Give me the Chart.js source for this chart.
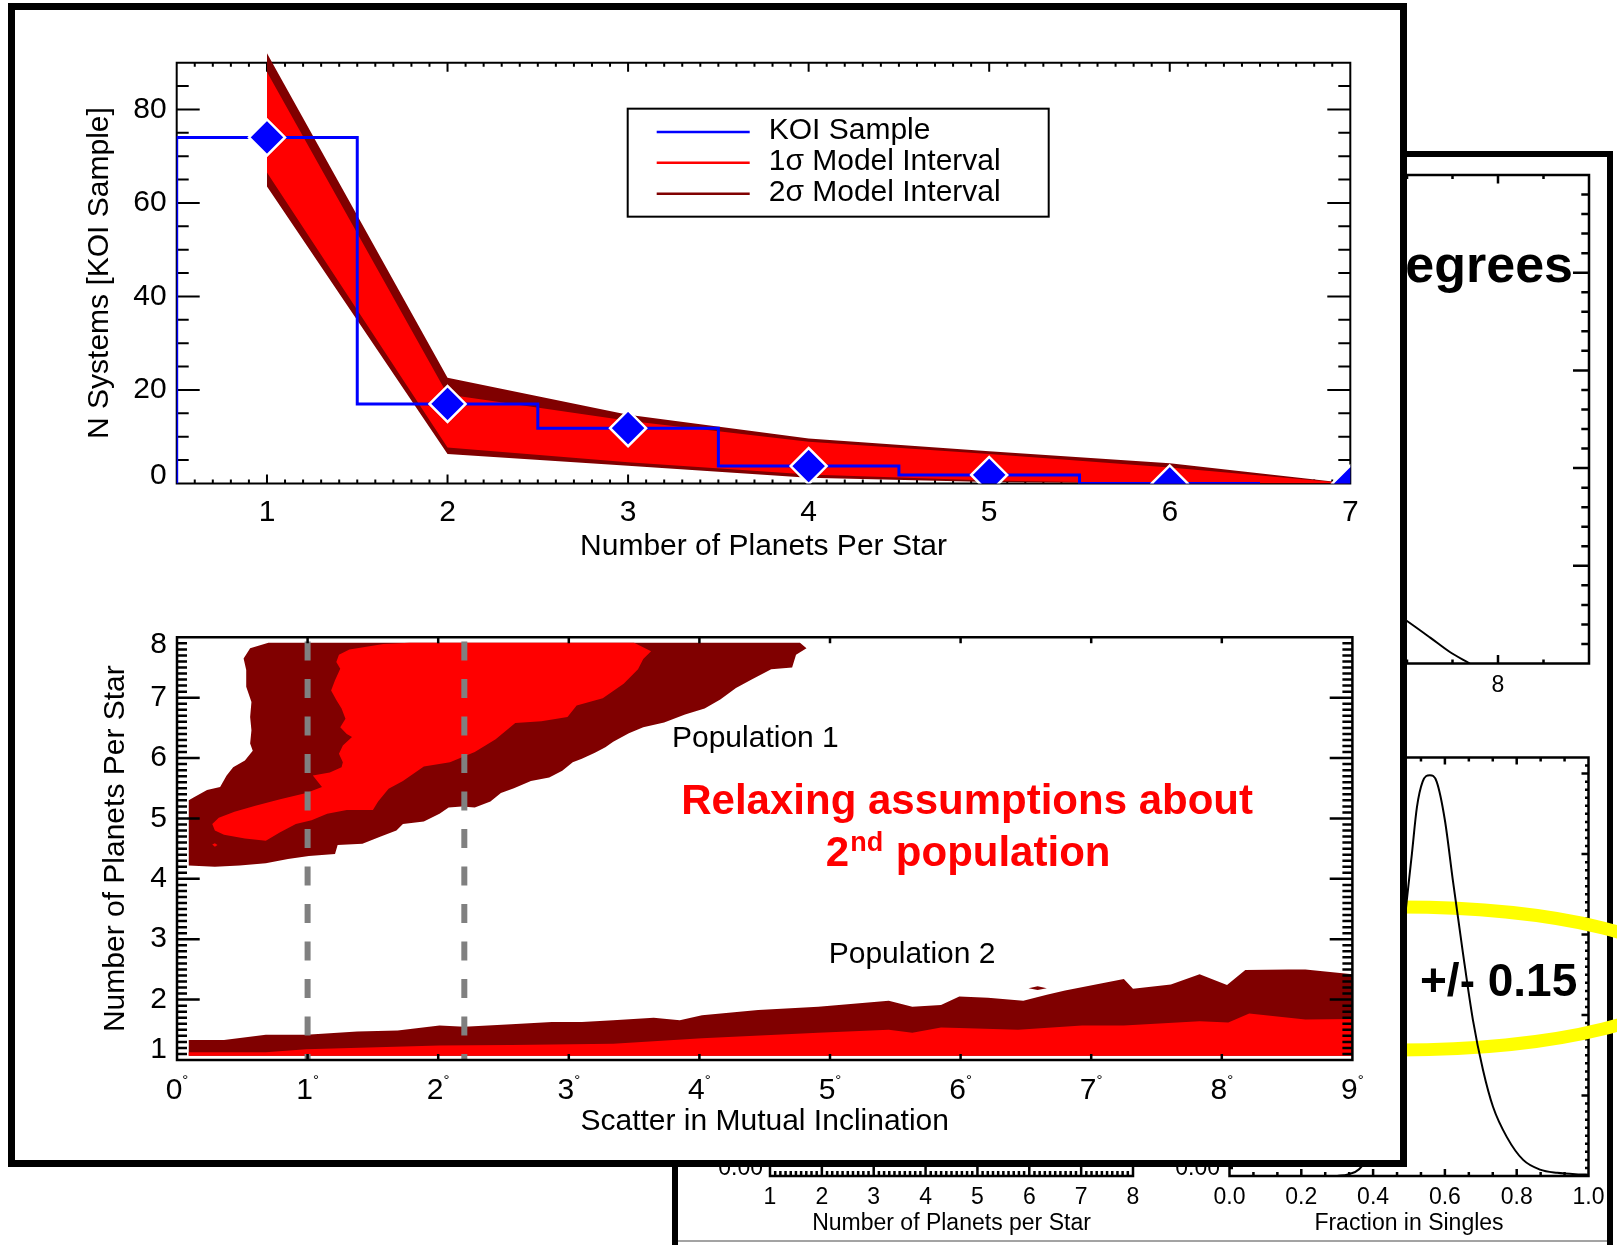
<!DOCTYPE html>
<html lang="en">
<head>
<meta charset="utf-8">
<title>Planet multiplicity and mutual inclination</title>
<script src="https://cdn.jsdelivr.net/npm/chart.js@4.4.1/dist/chart.umd.min.js"></script>
<style>
  html, body { margin: 0; padding: 0; background: #fff; }
  body { position: relative; width: 1617px; height: 1245px; overflow: hidden; }
  canvas { position: absolute; left: 0; top: 0; }
  .panel { position: absolute; box-sizing: border-box; background: #fff; border: solid #000; }
  #backPanel { left: 672px; top: 151px; width: 941px; height: 1200px; border-width: 6px; }
  #backEdge { position: absolute; left: 678px; top: 1240px; width: 929px; height: 2px; background: #a3a3a3; }
  #frontPanel { left: 8px; top: 3px; width: 1399px; height: 1164px; border-width: 7px; }
</style>
</head>
<body>
<div id="backPanel" class="panel"></div>
<div id="backEdge"></div>
<canvas id="degChart" width="1617" height="1245"></canvas>
<canvas id="numChart" width="1617" height="1245"></canvas>
<canvas id="fracChart" width="1617" height="1245"></canvas>
<div id="frontPanel" class="panel"></div>
<canvas id="koiChart" width="1617" height="1245"></canvas>
<canvas id="inclChart" width="1617" height="1245"></canvas>
<script>
const FONT = '"Liberation Sans", Arial, Helvetica, sans-serif';
const BLUE = '#0000ff', RED = '#ff0000', DARK = '#800000', GREY = '#808080';

// ---- KOI multiplicity: observed histogram and model intervals ----
const koiXRange = [0.5, 7];
const koiYRange = [0, 90];
const koiYHeadroom = 95;            // lets the interval band rise above the frame
const koiBinEdges = [0.5, 1.5, 2.5, 3.5, 4.5, 5.5, 6.5];   // last entry closes the final bin
const koiHist = [74, 17, 11.8, 3.7, 1.8, 0];
const planetsPerStar = [1, 2, 3, 4, 5, 6, 7];
const koiCounts = [74, 17, 11.8, 3.7, 1.8, 0, 0];
const oneSigmaHigh = [88, 19, 13.4, 8.9, 6.3, 3.4, 0];
const oneSigmaLow = [66.5, 7.7, 4.5, 1.9, 0.6, 0, 0];
const twoSigmaHigh = [92, 22.6, 14.7, 9.6, 6.9, 4.3, 0];
const twoSigmaLow = [63.5, 6.3, 3.8, 1.2, 0.3, 0, 0];
const koiXTicks = [1, 2, 3, 4, 5, 6, 7];
const koiYTicks = [0, 20, 40, 60, 80];
const koiLegend = ['KOI Sample', '1\u03c3 Model Interval', '2\u03c3 Model Interval'];

// ---- Mutual inclination vs. multiplicity: confidence contours ----
const inclXRange = [0, 9];
const inclYRange = [1, 8];
const inclXTicks = [0, 1, 2, 3, 4, 5, 6, 7, 8, 9];
const inclYTicks = [1, 2, 3, 4, 5, 6, 7, 8];
const inclRefLines = [1.0, 2.2];
const pop1Outer = [
  [0.70,7.91],[0.56,7.82],[0.51,7.65],[0.53,7.46],[0.53,7.18],[0.57,6.93],[0.56,6.68],[0.57,6.46],
  [0.56,6.24],[0.58,6.12],[0.52,5.96],[0.43,5.85],[0.38,5.71],[0.33,5.52],[0.23,5.47],[0.13,5.35],
  [0.09,5.30],[0.09,4.22],[0.29,4.20],[0.48,4.22],[0.68,4.26],[0.85,4.33],[1.01,4.38],[1.21,4.41],
  [1.23,4.56],[1.42,4.58],[1.56,4.70],[1.68,4.80],[1.73,4.91],[1.89,4.95],[2.01,5.08],[2.08,5.18],
  [2.18,5.20],[2.28,5.18],[2.40,5.28],[2.48,5.42],[2.58,5.50],[2.71,5.62],[2.85,5.68],[2.95,5.79],
  [3.03,5.93],[3.10,5.99],[3.20,6.09],[3.28,6.18],[3.34,6.27],[3.46,6.41],[3.57,6.51],[3.73,6.59],
  [3.89,6.72],[4.04,6.82],[4.16,6.97],[4.28,7.16],[4.40,7.30],[4.55,7.47],[4.71,7.50],[4.74,7.71],
  [4.82,7.82],[4.77,7.91]
];
const pop1Inner = [
  [1.78,7.91],[3.50,7.91],[3.63,7.77],[3.57,7.64],[3.53,7.47],[3.42,7.23],[3.26,6.99],[3.06,6.87],
  [2.99,6.68],[2.79,6.61],[2.59,6.58],[2.44,6.31],[2.28,6.10],[2.09,5.93],[1.89,5.86],[1.73,5.62],
  [1.62,5.49],[1.54,5.28],[1.50,5.14],[1.30,5.14],[1.15,5.08],[1.03,4.97],[0.91,4.91],[0.79,4.77],
  [0.68,4.63],[0.52,4.67],[0.36,4.73],[0.29,4.80],[0.27,4.91],[0.32,5.01],[0.44,5.11],[0.60,5.21],
  [0.79,5.32],[0.99,5.42],[1.11,5.52],[1.04,5.71],[1.17,5.76],[1.26,5.85],[1.27,5.93],[1.24,6.07],
  [1.27,6.21],[1.34,6.35],[1.30,6.40],[1.25,6.51],[1.29,6.65],[1.26,6.82],[1.22,6.96],[1.18,7.12],
  [1.21,7.29],[1.25,7.48],[1.22,7.59],[1.24,7.71],[1.32,7.80],[1.58,7.89]
];
const pop1Speck = [[0.27,4.57],[0.29,4.59],[0.31,4.56],[0.29,4.53]];
const pop2Floor = 1.07;
const pop2OuterTop = [
  [0.09,1.33],[0.36,1.33],[0.68,1.42],[0.99,1.42],[1.38,1.47],[1.69,1.49],[2.01,1.57],[2.20,1.55],
  [2.56,1.59],[2.87,1.63],[3.10,1.63],[3.34,1.66],[3.65,1.70],[3.85,1.66],[4.02,1.74],[4.45,1.83],
  [4.91,1.88],[5.45,1.98],[5.63,1.88],[5.85,1.91],[5.99,2.05],[6.21,2.03],[6.48,1.98],[6.66,2.08],
  [6.80,2.15],[7.25,2.34],[7.32,2.18],[7.61,2.25],[7.83,2.42],[8.04,2.24],[8.18,2.49],[8.51,2.50],
  [8.64,2.50],[9.00,2.42]
];
const pop2InnerTop = [
  [0.09,1.13],[0.68,1.13],[0.99,1.18],[2.01,1.24],[2.56,1.25],[3.34,1.27],[4.02,1.36],[4.91,1.45],
  [5.45,1.50],[5.63,1.45],[5.85,1.54],[5.99,1.53],[6.44,1.50],[6.93,1.57],[7.25,1.57],[7.83,1.64],
  [8.05,1.62],[8.21,1.77],[8.64,1.67],[9.00,1.68]
];
const pop2Speck = [[6.52,2.19],[6.59,2.22],[6.66,2.19],[6.59,2.16]];

// ---- panels behind ----
const degXRange = [0, 10];
const degXTicks = [0, 4, 8];
const degCurveX = [4, 5, 6.0, 6.51, 6.95, 7.38];
const degCurveY = [0.22, 0.15, 0.087, 0.053, 0.023, 0];
const numXRange = [1, 8];
const numXTicks = [1, 2, 3, 4, 5, 6, 7, 8];
const fracXRange = [0, 1];
const fracYRange = [0, 0.26];
const fracXTicks = [0, 0.2, 0.4, 0.6, 0.8, 1.0];
const fracX = [0.30, 0.33, 0.36, 0.40, 0.43, 0.46, 0.48, 0.494, 0.508, 0.522, 0.538, 0.558, 0.577,
               0.600, 0.622, 0.650, 0.678, 0.706, 0.734, 0.773, 0.818, 0.865, 0.913, 0.977, 1.0];
const fracY = [0.000, 0.001, 0.004, 0.018, 0.045, 0.100, 0.142, 0.1715, 0.200, 0.229, 0.245, 0.249, 0.245,
               0.221, 0.184, 0.139, 0.097, 0.066, 0.043, 0.024, 0.010, 0.004, 0.002, 0.001, 0.0008];

// ---------- helpers ----------
const W = 1617, H = 1245;
const pts = (xs, ys) => xs.map((x, i) => ({x, y: ys[i]}));
const poly = pairs => pairs.map(([x, y]) => ({x, y}));
function range(a, b, step) {
  const out = []; const n = Math.round((b - a) / step);
  for (let i = 0; i <= n; i++) out.push(+(a + i * step).toFixed(6));
  return out;
}
function pad(left, top, right, bottom) {
  return {left, top, right: W - right, bottom: H - bottom};
}
function baseOptions(padding, xr, yr) {
  return {
    responsive: false, maintainAspectRatio: false, animation: false, devicePixelRatio: 1, events: [],
    layout: {padding},
    plugins: {legend: {display: false}, tooltip: {enabled: false}, filler: {propagate: false}},
    scales: {
      x: {type: 'linear', min: xr[0], max: xr[1], display: false},
      y: {type: 'linear', min: yr[0], max: yr[1], display: false}
    }
  };
}
function text(ctx, str, x, y, font, align, baseline, color) {
  ctx.save();
  ctx.font = font; ctx.fillStyle = color || '#000';
  ctx.textAlign = align || 'center'; ctx.textBaseline = baseline || 'middle';
  ctx.fillText(str, x, y);
  ctx.restore();
}
function vtext(ctx, str, x, y, font) {
  ctx.save(); ctx.translate(x, y); ctx.rotate(-Math.PI / 2);
  text(ctx, str, 0, 0, font); ctx.restore();
}
// Box frame with inward ticks on all four sides, placed through the chart scales.
function drawFrame(chart, s) {
  const {ctx} = chart; const xs = chart.scales.x, ys = chart.scales.y;
  const L = xs.getPixelForValue(s.x0), R = xs.getPixelForValue(s.x1);
  const B = ys.getPixelForValue(s.y0), T = ys.getPixelForValue(s.y1);
  ctx.save();
  ctx.strokeStyle = '#000'; ctx.lineWidth = s.lw; ctx.lineCap = 'butt';
  ctx.beginPath();
  ctx.rect(L, T, R - L, B - T);
  for (const t of s.xTicks || []) for (const v of t.values) {
    const p = xs.getPixelForValue(v);
    if (t.bottom) { ctx.moveTo(p, B); ctx.lineTo(p, B - t.len); }
    if (t.top) { ctx.moveTo(p, T); ctx.lineTo(p, T + t.len); }
  }
  for (const t of s.yTicks || []) for (const v of t.values) {
    const p = ys.getPixelForValue(v);
    if (t.left) { ctx.moveTo(L, p); ctx.lineTo(L + t.len, p); }
    if (t.right) { ctx.moveTo(R, p); ctx.lineTo(R - t.len, p); }
  }
  ctx.stroke();
  ctx.restore();
  return {L, R, T, B};
}
function xLabels(chart, values, fmt, y, font) {
  const xs = chart.scales.x;
  values.forEach(v => text(chart.ctx, fmt(v), xs.getPixelForValue(v), y, font));
}
function yLabels(chart, values, fmt, xRight, font, lo, hi) {
  const ys = chart.scales.y;
  values.forEach(v => {
    const p = Math.min(hi, Math.max(lo, ys.getPixelForValue(v)));
    text(chart.ctx, fmt(v), xRight, p, font, 'right');
  });
}

// ---------- KOI multiplicity chart ----------
const koiStep = [{x: koiBinEdges[0], y: 0}]
  .concat(koiHist.map((c, i) => ({x: koiBinEdges[i], y: c})))
  .concat([{x: koiBinEdges[koiHist.length], y: koiHist[koiHist.length - 1]}]);

const koiFont = '30px ' + FONT;
const koiPlugin = {
  id: 'koiAxes',
  beforeDatasetsDraw(chart) {
    const {ctx} = chart;
    const f = drawFrame(chart, {
      x0: koiXRange[0], x1: koiXRange[1], y0: koiYRange[0], y1: koiYRange[1], lw: 2,
      xTicks: [{values: koiXTicks, len: 9, bottom: true, top: true},
               {values: range(koiXRange[0], koiXRange[1], 0.1), len: 4, bottom: true, top: true}],
      yTicks: [{values: koiYTicks, len: 23, left: true, right: true},
               {values: range(koiYRange[0], koiYRange[1], 5), len: 12, left: true, right: true}]
    });
    xLabels(chart, koiXTicks, String, f.B + 29, koiFont);
    yLabels(chart, koiYTicks, String, f.L - 10, koiFont, f.T, f.B - 8);
    text(ctx, 'Number of Planets Per Star', (f.L + f.R) / 2, f.B + 63.5, koiFont);
    vtext(ctx, 'N Systems [KOI Sample]', f.L - 77, (f.T + f.B) / 2, koiFont);
  },
  afterDraw(chart) {
    const {ctx} = chart;
    const xs = chart.scales.x, ys = chart.scales.y;
    const L = xs.getPixelForValue(koiXRange[0]), T = ys.getPixelForValue(koiYRange[1]);
    const bx = L + 451, by = T + 46, bw = 421, bh = 108;
    ctx.save();
    ctx.strokeStyle = '#000'; ctx.lineWidth = 2;
    ctx.strokeRect(bx, by, bw, bh);
    const colors = [BLUE, RED, DARK];
    const rows = [23.4, 54, 85];
    koiLegend.forEach((lab, i) => {
      ctx.strokeStyle = colors[i]; ctx.lineWidth = 2.5;
      ctx.beginPath(); ctx.moveTo(bx + 29, by + rows[i]); ctx.lineTo(bx + 122, by + rows[i]); ctx.stroke();
      text(ctx, lab, bx + 141, by + rows[i] - 1, koiFont, 'left');
    });
    ctx.restore();
  }
};

new Chart(document.getElementById('koiChart'), {
  type: 'line',
  data: {datasets: [
    {label: koiLegend[0], data: pts(planetsPerStar, koiCounts), showLine: false, pointStyle: 'rectRot',
     pointRadius: 18, pointBackgroundColor: BLUE, pointBorderColor: '#ffffff', pointBorderWidth: 2.5,
     clip: 0, order: 0},
    {label: 'KOI histogram', data: koiStep, stepped: true, borderColor: BLUE, borderWidth: 3,
     pointRadius: 0, fill: false, order: 1},
    {label: koiLegend[1], data: pts(planetsPerStar, oneSigmaHigh), borderWidth: 0, pointRadius: 0,
     backgroundColor: RED, fill: '+1', order: 2},
    {label: '1\u03c3 lower', data: pts(planetsPerStar, oneSigmaLow), borderWidth: 0, pointRadius: 0,
     fill: false, order: 2},
    {label: koiLegend[2], data: pts(planetsPerStar, twoSigmaHigh), borderWidth: 0, pointRadius: 0,
     backgroundColor: DARK, fill: '+1', order: 3},
    {label: '2\u03c3 lower', data: pts(planetsPerStar, twoSigmaLow), borderWidth: 0, pointRadius: 0,
     fill: false, order: 3}
  ]},
  options: baseOptions(pad(176.7, 39.3, 1350.3, 483.4), koiXRange, [koiYRange[0], koiYHeadroom]),
  plugins: [koiPlugin]
});

// ---------- mutual inclination contour chart ----------
const inclPlugin = {
  id: 'inclAxes',
  afterDatasetsDraw(chart) {
    const {ctx} = chart;
    const f = drawFrame(chart, {
      x0: inclXRange[0], x1: inclXRange[1], y0: inclYRange[0], y1: inclYRange[1], lw: 2.5,
      xTicks: [{values: inclXTicks, len: 6, bottom: true, top: true}],
      yTicks: [{values: inclYTicks, len: 22.7, left: true, right: true},
               {values: range(inclYRange[0], inclYRange[1], 0.1), len: 10, left: true, right: true}]
    });
    // degree-marked tick labels
    const xs = chart.scales.x;
    const digitFont = '30px ' + FONT, degFont = '15px ' + FONT;
    const ly = f.B + 31;
    inclXTicks.forEach(v => {
      const s = String(v);
      ctx.save();
      ctx.font = digitFont; const wd = ctx.measureText(s).width;
      ctx.font = degFont; const wg = ctx.measureText('\u00b0').width;
      ctx.restore();
      const x0 = xs.getPixelForValue(v) - (wd + wg) / 2;
      text(ctx, s, x0, ly, digitFont, 'left');
      text(ctx, '\u00b0', x0 + wd, ly - 6.5, degFont, 'left', 'alphabetic');
    });
    yLabels(chart, inclYTicks, String, f.L - 10, koiFont, f.T + 7, f.B - 10);
    text(ctx, 'Scatter in Mutual Inclination', (f.L + f.R) / 2, f.B + 62, koiFont);
    vtext(ctx, 'Number of Planets Per Star', f.L - 61.5, (f.T + f.B) / 2, koiFont);
  },
  afterDraw(chart) {
    const {ctx} = chart; const xs = chart.scales.x, ys = chart.scales.y;
    const px = v => xs.getPixelForValue(v), py = v => ys.getPixelForValue(v);
    text(ctx, 'Population 1', px(3.79), py(6.32), koiFont, 'left');
    text(ctx, 'Population 2', px(4.99), py(2.74), koiFont, 'left');
    const big = 'bold 42px ' + FONT, sup = 'bold 27px ' + FONT;
    text(ctx, 'Relaxing assumptions about', px(6.05), py(5.26), big, 'center', 'middle', RED);
    // second line with superscript ordinal
    ctx.save();
    ctx.font = big; const w2 = ctx.measureText('2').width; const wp = ctx.measureText(' population').width;
    ctx.font = sup; const wn = ctx.measureText('nd').width;
    ctx.restore();
    const total = w2 + wn + wp;
    const x0 = px(6.05) - total / 2, base = py(4.45) + 14;
    text(ctx, '2', x0, base, big, 'left', 'alphabetic', RED);
    text(ctx, 'nd', x0 + w2 + 1, base - 14.5, sup, 'left', 'alphabetic', RED);
    text(ctx, ' population', x0 + w2 + wn + 2, base, big, 'left', 'alphabetic', RED);
  }
};

const shapeSet = (label, pairs, color, order) => ({
  label, data: poly(pairs), fill: 'shape', backgroundColor: color, borderWidth: 0, pointRadius: 0, order
});
const withFloor = top => top.concat([[top[top.length - 1][0], pop2Floor], [top[0][0], pop2Floor]]);

new Chart(document.getElementById('inclChart'), {
  type: 'line',
  data: {datasets: [
    shapeSet('Population 1, 2\u03c3', pop1Outer, DARK, 5),
    shapeSet('Population 1, 1\u03c3', pop1Inner, RED, 4),
    shapeSet('Population 1, 1\u03c3 island', pop1Speck, RED, 3),
    shapeSet('Population 2, 2\u03c3', withFloor(pop2OuterTop), DARK, 5),
    shapeSet('Population 2, 1\u03c3', withFloor(pop2InnerTop), RED, 4),
    shapeSet('Population 2, 2\u03c3 island', pop2Speck, DARK, 3),
    ...inclRefLines.map(v => ({
      label: 'reference ' + v, data: [{x: v, y: 7.93}, {x: v, y: inclYRange[0]}],
      borderColor: GREY, borderWidth: 6, borderDash: [19, 18.5], pointRadius: 0, fill: false, order: 0
    }))
  ]},
  options: baseOptions(pad(177, 637.3, 1352.4, 1060), inclXRange, inclYRange),
  plugins: [inclPlugin]
});

// ---------- panels behind ----------
const backFont = '23px ' + FONT;

new Chart(document.getElementById('degChart'), {
  type: 'line',
  data: {datasets: [{label: 'curve', data: pts(degCurveX, degCurveY), borderColor: '#000', borderWidth: 2,
    pointRadius: 0, fill: false, cubicInterpolationMode: 'monotone'}]},
  options: baseOptions(pad(1134, 175, 1589, 663.5), degXRange, [0, 1]),
  plugins: [{
    id: 'degAxes',
    beforeDatasetsDraw(chart) {
      const f = drawFrame(chart, {
        x0: degXRange[0], x1: degXRange[1], y0: 0, y1: 1, lw: 2.5,
        xTicks: [{values: degXTicks, len: 8.5, bottom: true, top: true},
                 {values: range(degXRange[0], degXRange[1], 1), len: 4, bottom: true, top: true}],
        yTicks: [{values: range(0, 1, 0.2), len: 16, left: true, right: true},
                 {values: range(0, 1, 0.04), len: 7.7, left: true, right: true}]
      });
      xLabels(chart, degXTicks, String, f.B + 22.5, backFont);
      text(chart.ctx, 'degrees', f.R - 16, f.T + 107, 'bold 52px ' + FONT, 'right', 'alphabetic');
    }
  }]
});

new Chart(document.getElementById('numChart'), {
  type: 'line',
  data: {datasets: []},
  options: baseOptions(pad(770, 757, 1133, 1176), numXRange, [0, 1]),
  plugins: [{
    id: 'numAxes',
    beforeDatasetsDraw(chart) {
      const f = drawFrame(chart, {
        x0: numXRange[0], x1: numXRange[1], y0: 0, y1: 1, lw: 2.5,
        xTicks: [{values: numXTicks, len: 9, bottom: true, top: true},
                 {values: range(numXRange[0], numXRange[1], 0.1), len: 5, bottom: true, top: true}],
        yTicks: [{values: range(0, 1, 0.2), len: 9, left: true, right: true}]
      });
      xLabels(chart, numXTicks, String, f.B + 22, backFont);
      yLabels(chart, [0], v => v.toFixed(2), f.L - 7, backFont, f.T, f.B - 7);
      text(chart.ctx, 'Number of Planets per Star', (f.L + f.R) / 2, f.B + 48, backFont);
    }
  }]
});

new Chart(document.getElementById('fracChart'), {
  type: 'line',
  data: {datasets: [{label: 'Fraction in Singles', data: pts(fracX, fracY), borderColor: '#000', borderWidth: 2,
    pointRadius: 0, fill: false, cubicInterpolationMode: 'monotone'}]},
  options: baseOptions(pad(1229.5, 757.5, 1588.5, 1176), fracXRange, fracYRange),
  plugins: [{
    id: 'fracAxes',
    beforeDatasetsDraw(chart) {
      const {ctx} = chart;
      const f = drawFrame(chart, {
        x0: fracXRange[0], x1: fracXRange[1], y0: fracYRange[0], y1: fracYRange[1], lw: 2.5,
        xTicks: [{values: fracXTicks, len: 7, bottom: true, top: true},
                 {values: range(0, 1, 0.2 / 3), len: 4, bottom: true, top: true}],
        yTicks: [{values: range(0, 0.25, 0.05), len: 7, left: true, right: true},
                 {values: range(0, 0.26, 0.005), len: 3.5, left: true, right: true}]
      });
      xLabels(chart, fracXTicks, v => v.toFixed(1), f.B + 22, backFont);
      yLabels(chart, [0], v => v.toFixed(2), f.L - 9.5, backFont, f.T, f.B - 7);
      text(ctx, 'Fraction in Singles', (f.L + f.R) / 2, f.B + 48, backFont);
      // highlight ring around the width of the distribution
      ctx.save();
      ctx.strokeStyle = '#ffff00'; ctx.lineWidth = 13;
      ctx.beginPath(); ctx.ellipse(1400, 978.5, 287, 71.5, 0, 0, Math.PI * 2); ctx.stroke();
      ctx.restore();
    },
    afterDraw(chart) {
      text(chart.ctx, '+/- 0.15', 1420, 996, 'bold 46px ' + FONT, 'left', 'alphabetic');
    }
  }]
});
</script>
</body>
</html>
